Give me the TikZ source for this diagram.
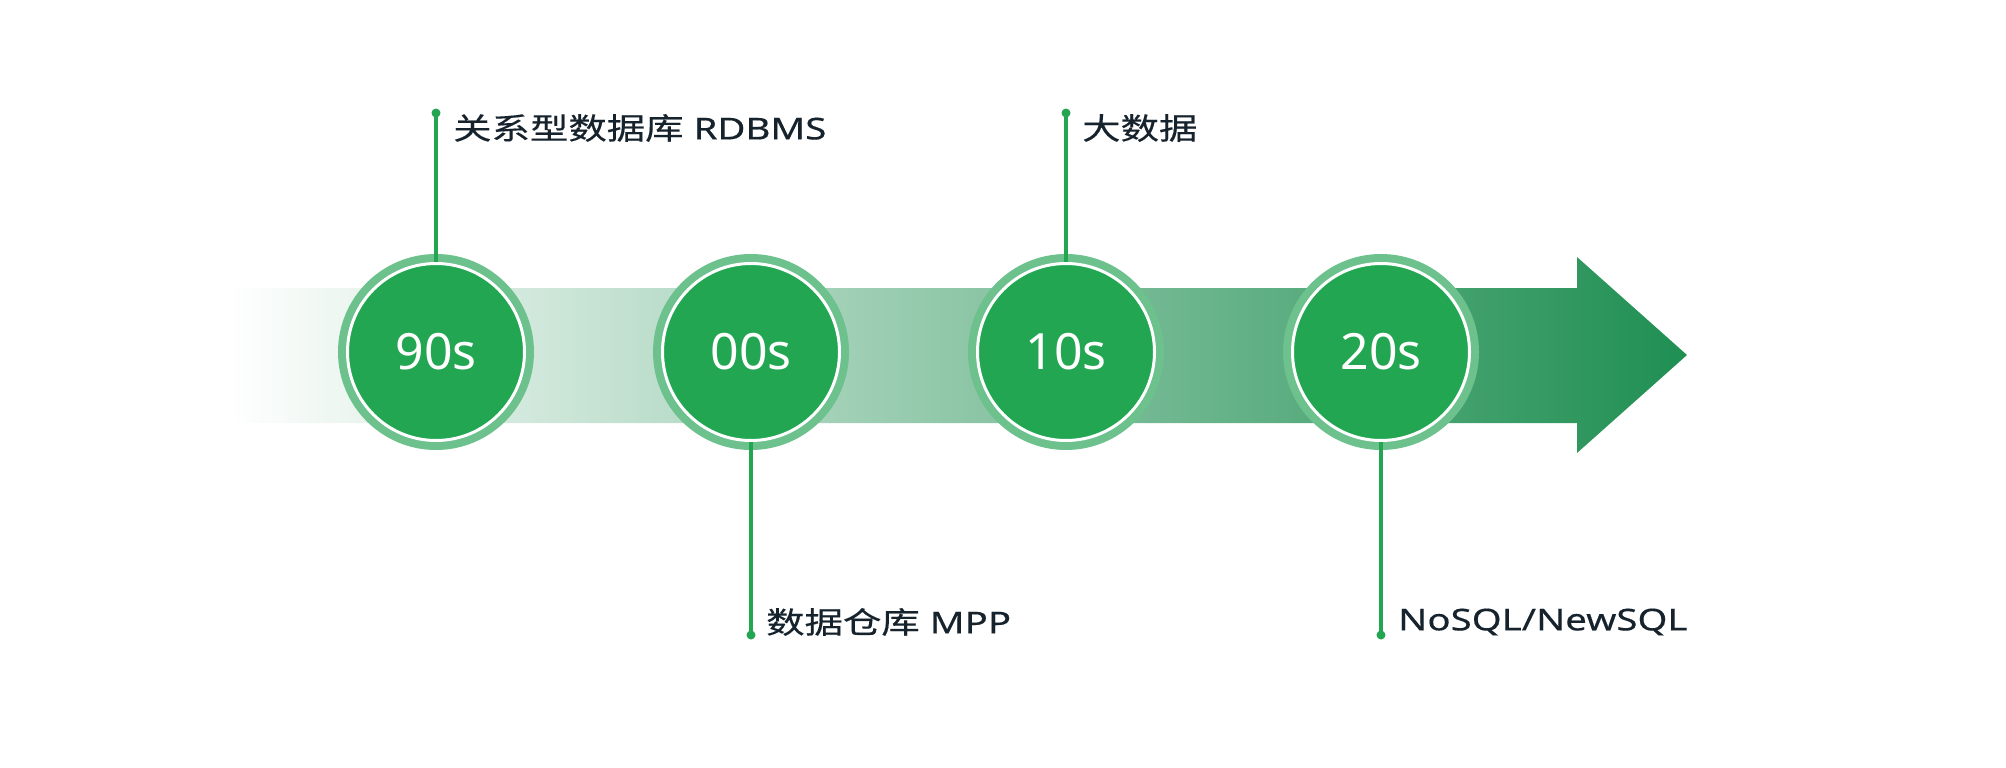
\documentclass[tikz,border=0pt]{standalone}
\usepackage{fontspec}
\setmainfont{Noto Sans}
\newfontfamily\lblfont{Noto Sans}[FakeStretch=1.28,FakeBold=0.4]
\newfontfamily\cjk{Noto Sans CJK SC}[FakeStretch=1.28,FakeBold=0.4]
\definecolor{maingreen}{HTML}{22A651}
\definecolor{ringgreen}{HTML}{6CC18D}
\definecolor{arrowdark}{HTML}{1F8F52}
\definecolor{arrowmid}{HTML}{8CCDA3}
\definecolor{textdark}{HTML}{16222C}
\tikzset{
  ringnode/.style={circle, fill=ringgreen, minimum size=196pt, inner sep=0pt, outer sep=0pt},
  yearnode/.style={circle, fill=maingreen, draw=white, line width=3pt, minimum size=177pt, inner sep=0pt, outer sep=0pt, text=white, font=\fontsize{50}{56}\selectfont},
  dotnode/.style={circle, fill=maingreen, minimum size=9pt, inner sep=0pt, outer sep=0pt},
  conn/.style={draw=maingreen, line width=4pt},
  lbl/.style={anchor=west, inner sep=0pt, text=textdark, font=\lblfont\fontsize{30}{34}\selectfont},
}
\begin{document}
\begin{tikzpicture}[x=1pt,y=-1pt]
\useasboundingbox (0,0) rectangle (2006,768);
% arrow
\shade[left color=white, middle color=arrowmid, right color=arrowdark, shading angle=90]
  (227,288) -- (1577,288) -- (1577,257) -- (1687,355) -- (1577,453) -- (1577,423) -- (227,423) -- cycle;
% dots
\node[dotnode] (d1) at (436,113) {};
\node[dotnode] (d2) at (751,635) {};
\node[dotnode] (d3) at (1066,113) {};
\node[dotnode] (d4) at (1381,635) {};
% ring backgrounds
\node[ringnode] (r1) at (436,352) {};
\node[ringnode] (r2) at (751,352) {};
\node[ringnode] (r3) at (1066,352) {};
\node[ringnode] (r4) at (1381,352) {};
% connectors
\draw[conn] (d1.center) -- (r1.center);
\draw[conn] (d2.center) -- (r2.center);
\draw[conn] (d3.center) -- (r3.center);
\draw[conn] (d4.center) -- (r4.center);
% year discs
\node[yearnode] (c1) at (r1.center) {90s};
\node[yearnode] (c2) at (r2.center) {00s};
\node[yearnode] (c3) at (r3.center) {10s};
\node[yearnode] (c4) at (r4.center) {20s};
% labels
\node[lbl] (l1) at (453,128) {{\cjk 关系型数据库} RDBMS};
\node[lbl] (l2) at (766,622) {{\cjk 数据仓库} MPP};
\node[lbl] (l3) at (1082,128) {{\cjk 大数据}};
\node[lbl] (l4) at (1398,622) {NoSQL/NewSQL};
\end{tikzpicture}
\end{document}
